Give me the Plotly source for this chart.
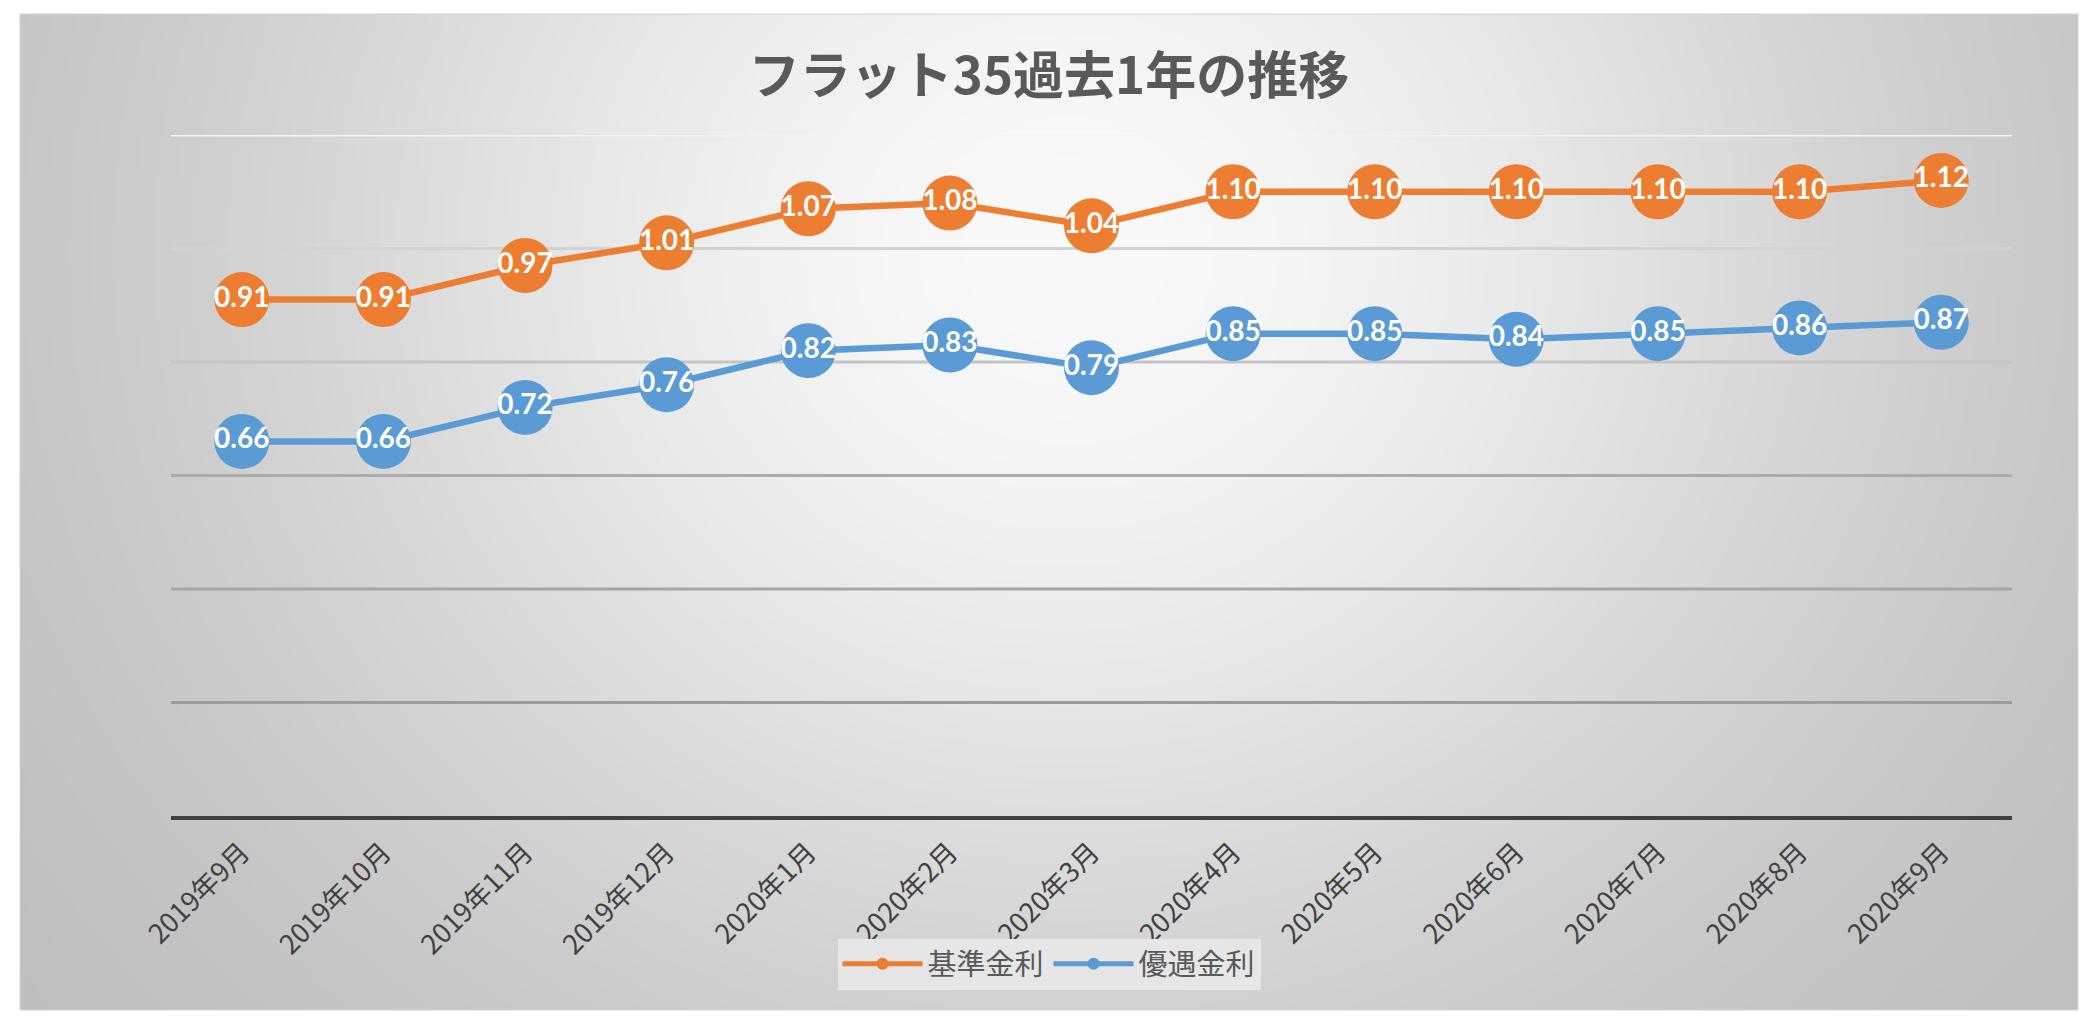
import base64
import struct
import zlib

import numpy as np
import plotly.graph_objects as go

# ---- data ----
months = ["2019年9月", "2019年10月", "2019年11月", "2019年12月", "2020年1月",
          "2020年2月", "2020年3月", "2020年4月", "2020年5月", "2020年6月",
          "2020年7月", "2020年8月", "2020年9月"]
kijun = [0.91, 0.91, 0.97, 1.01, 1.07, 1.08, 1.04, 1.10, 1.10, 1.10, 1.10, 1.10, 1.12]
yuguu = [0.66, 0.66, 0.72, 0.76, 0.82, 0.83, 0.79, 0.85, 0.85, 0.84, 0.85, 0.86, 0.87]
grid_values = [0.2, 0.4, 0.6, 0.8, 1.0, 1.2]
grid_colors = ["#9c9c9c", "#a6a6a6", "#ababab", "#c4c4c4", "#d2d2d2", "#f4f4f4"]

# page has an 8px body margin: figure coordinates = page coordinates - 8
OFF = 8
W, H = 2076, 1005
L, R, T, B = 171 - OFF, W - (2012 - OFF), 135 - OFF, H - (816 - OFF)
plot_w = W - L - R
plot_h = H - T - B


# ---- radial gradient background as PNG ----
def gradient_png(fx0, fy0, fx1, fy1, n_w=420, n_h=200):
    xs = np.linspace(fx0, fx1, n_w)
    ys = np.linspace(fy0, fy1, n_h)
    X, Y = np.meshgrid(xs, ys)
    cx, cy, rx, ry = 1067.0, 250.0, 1003.0, 915.0
    t2 = ((X - cx) / rx) ** 2 + ((Y - cy) / ry) ** 2
    drop = 48.0 * (1 - np.exp(-1.4 * t2)) / (1 - np.exp(-1.4))
    img = np.clip(249.0 - drop, 0, 255).astype(np.uint8)
    raw = b"".join(b"\x00" + row.tobytes() for row in img)

    def chunk(tag, data):
        c = struct.pack(">I", len(data)) + tag + data
        return c + struct.pack(">I", zlib.crc32(tag + data) & 0xFFFFFFFF)

    png = b"\x89PNG\r\n\x1a\n"
    png += chunk(b"IHDR", struct.pack(">IIBBBBB", n_w, n_h, 8, 0, 0, 0, 0))
    png += chunk(b"IDAT", zlib.compress(raw, 9))
    png += chunk(b"IEND", b"")
    return "data:image/png;base64," + base64.b64encode(png).decode()


# frame in page coordinates
fx0, fy0, fx1, fy1 = 20, 14, 2078, 1010
bg = gradient_png(fx0, fy0, fx1, fy1)


def px_to_paper_x(px):
    return (px - OFF - L) / plot_w


def px_to_paper_y(py):
    return (H - B - (py - OFF)) / plot_h


fig = go.Figure()

label_font = dict(family="Lato, 'Noto Sans CJK JP', sans-serif", size=28, color="white", weight="bold")

fig.add_trace(go.Scatter(
    x=months, y=kijun, name="基準金利", mode="lines+markers+text",
    line=dict(color="#ED7D31", width=6.5),
    marker=dict(color="#ED7D31", size=55),
    text=[f"{v:.2f}" for v in kijun], textposition="middle center",
    textfont=label_font, cliponaxis=False,
))
fig.add_trace(go.Scatter(
    x=months, y=yuguu, name="優遇金利", mode="lines+markers+text",
    line=dict(color="#5B9BD5", width=6.5),
    marker=dict(color="#5B9BD5", size=55),
    text=[f"{v:.2f}" for v in yuguu], textposition="middle center",
    textfont=label_font, cliponaxis=False,
))

shapes = []
for gv, gc in zip(grid_values, grid_colors):
    shapes.append(dict(type="line", xref="paper", yref="y", x0=0, x1=1, y0=gv, y1=gv,
                       line=dict(color=gc, width=3), layer="below"))
shapes.append(dict(type="rect", xref="paper", yref="paper",
                   x0=px_to_paper_x(fx0), x1=px_to_paper_x(fx1),
                   y0=px_to_paper_y(fy1), y1=px_to_paper_y(fy0),
                   line=dict(color="#d4d4d4", width=1), layer="below"))

fig.update_layout(
    width=W, height=H,
    margin=dict(l=L, r=R, t=T, b=B),
    paper_bgcolor="white",
    plot_bgcolor="rgba(0,0,0,0)",
    images=[dict(source=bg, xref="paper", yref="paper",
                 x=px_to_paper_x(fx0), y=px_to_paper_y(fy0),
                 sizex=px_to_paper_x(fx1) - px_to_paper_x(fx0),
                 sizey=px_to_paper_y(fy0) - px_to_paper_y(fy1),
                 xanchor="left", yanchor="top", sizing="stretch", layer="below")],
    shapes=shapes,
    title=dict(text="フラット35過去1年の推移", x=px_to_paper_x(1049), xref="paper",
               xanchor="center", y=1 - (76 - OFF) / H, yanchor="middle",
               font=dict(family="'Noto Sans CJK JP', sans-serif", size=51,
                         color="#595959", weight="bold")),
    xaxis=dict(type="category", range=[-0.5, len(months) - 0.5],
               showgrid=False, zeroline=False,
               showline=True, linecolor="#404040", linewidth=3.5,
               ticks="", tickangle=-45, ticklabelstandoff=6,
               tickfont=dict(family="'Noto Sans CJK JP', sans-serif", size=27, color="#404040")),
    yaxis=dict(range=[0, 1.2], showgrid=False, zeroline=False, showticklabels=False,
               showline=False, ticks=""),
    showlegend=True,
    legend=dict(orientation="h", x=px_to_paper_x(1049), y=px_to_paper_y(964),
                xanchor="center", yanchor="middle", bgcolor="#e6e6e6",
                itemsizing="constant", itemwidth=80,
                font=dict(family="'Noto Sans CJK JP', sans-serif", size=29, color="#595959")),
)

fig.write_html("out.html")
